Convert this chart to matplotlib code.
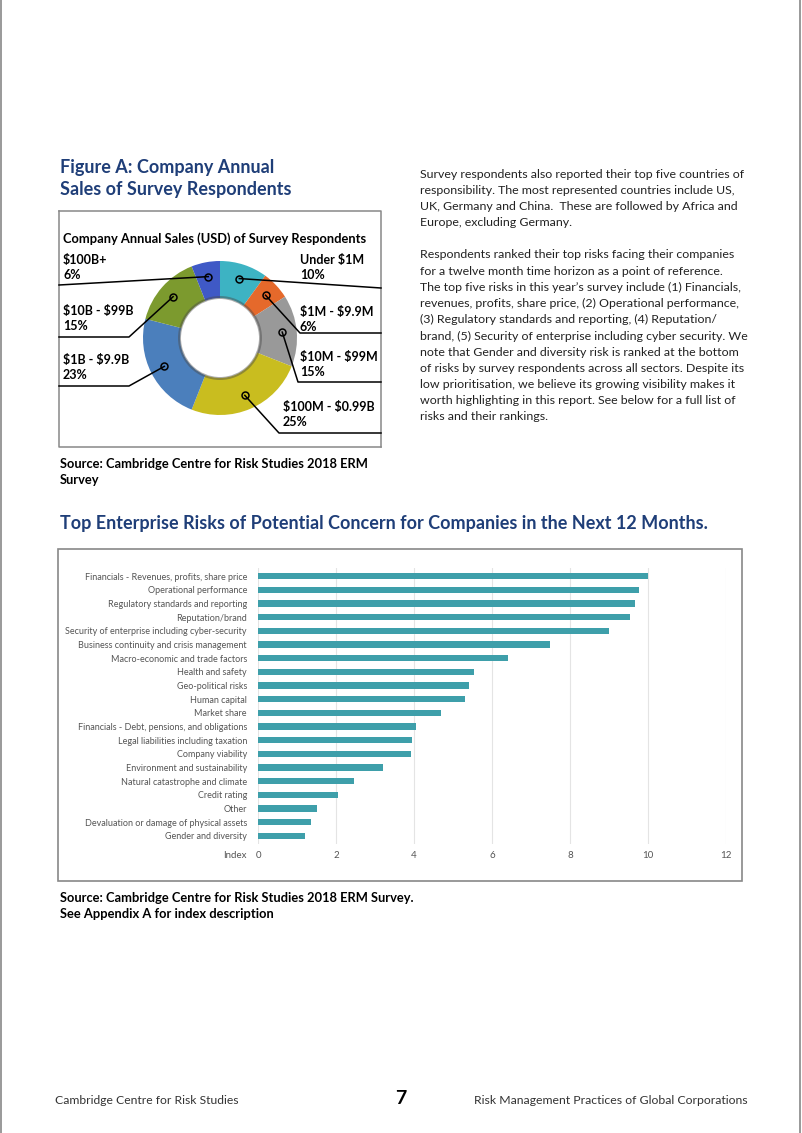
import numpy as np
import matplotlib.pyplot as plt

plt.rcParams['font.family'] = ['Lato', 'DejaVu Sans']
plt.rcParams['text.parse_math'] = False

W, H = 802, 1133
NAVY = '#1F3E78'
TEAL = '#3E9FAA'

# donut data
sales_labels = ['Under $1M', '$1M - $9.9M', '$10M - $99M', '$100M - $0.99B',
                '$1B - $9.9B', '$10B - $99B', '$100B+']
sales_share = [10, 6, 15, 25, 23, 15, 6]
sales_colors = ['#3DB3C3', '#E5692B', '#999999', '#C9BD1F',
                '#4B7FBC', '#7C9A2E', '#3F59C6']

# bar data
risks = [
    'Financials - Revenues, profits, share price',
    'Operational performance',
    'Regulatory standards and reporting',
    'Reputation/brand',
    'Security of enterprise including cyber-security',
    'Business continuity and crisis management',
    'Macro-economic and trade factors',
    'Health and safety',
    'Geo-political risks',
    'Human capital',
    'Market share',
    'Financials - Debt, pensions, and obligations',
    'Legal liabilities including taxation',
    'Company viability',
    'Environment and sustainability',
    'Natural catastrophe and climate',
    'Credit rating',
    'Other',
    'Devaluation or damage of physical assets',
    'Gender and diversity',
]
risk_index = [10.0, 9.76, 9.67, 9.55, 9.0, 7.49, 6.40, 5.55, 5.40, 5.31,
              4.69, 4.06, 3.95, 3.92, 3.21, 2.47, 2.05, 1.51, 1.35, 1.21]
index_ticks = [0, 2, 4, 6, 8, 10, 12]

paragraph = [
    'Survey respondents also reported their top five countries of',
    'responsibility. The most represented countries include US,',
    'UK, Germany and China.  These are followed by Africa and',
    'Europe, excluding Germany.',
    '',
    'Respondents ranked their top risks facing their companies',
    'for a twelve month time horizon as a point of reference.',
    'The top five risks in this year\u2019s survey include (1) Financials,',
    'revenues, profits, share price, (2) Operational performance,',
    '(3) Regulatory standards and reporting, (4) Reputation/',
    'brand, (5) Security of enterprise including cyber security. We',
    'note that Gender and diversity risk is ranked at the bottom',
    'of risks by survey respondents across all sectors. Despite its',
    'low prioritisation, we believe its growing visibility makes it',
    'worth highlighting in this report. See below for a full list of',
    'risks and their rankings.',
]

fig = plt.figure(figsize=(W / 100, H / 100), dpi=100)
fig.patch.set_facecolor('white')

# page-level axes in pixel coordinates (y down)
pg = fig.add_axes([0, 0, 1, 1])
pg.set_xlim(0, W)
pg.set_ylim(H, 0)
pg.axis('off')

# page edges
pg.plot([1, 1], [0, H], color='#888888', lw=1.2)
pg.plot([W - 2, W - 2], [0, H], color='#888888', lw=1.2)

# ---- Figure A ----
pg.text(60, 168, 'Figure A: Company Annual', fontsize=13, fontweight='bold',
        color=NAVY, va='center')
pg.text(60, 189, 'Sales of Survey Respondents', fontsize=13, fontweight='bold',
        color=NAVY, va='center')

pg.plot([59, 381, 381], [211, 211, 447], color='#888888', lw=1.1)
pg.plot([59, 59, 381], [211, 447, 447], color='#888888', lw=1.1)
pg.text(63, 239, 'Company Annual Sales (USD) of Survey Respondents',
        fontsize=9.3, fontweight='bold', va='center')

cx, cy, R, ring = 220, 338, 77, 37
wedges, _ = pg.pie(sales_share, colors=sales_colors, startangle=-90,
                   counterclock=True, radius=R, center=(cx, cy), frame=True,
                   wedgeprops=dict(width=ring, linewidth=0))
# inner shadow ring
pg.add_patch(plt.Circle((cx, cy), R - ring + 2, color='#4a4a4a', alpha=0.45,
                        lw=0, zorder=3))
pg.add_patch(plt.Circle((cx, cy), R - ring - 1, color='white', lw=0, zorder=4))

# leader line layout: (text x, text y, path after marker)
label_layout = [
    (300, 260, [(381, 288)]),
    (300, 312, [(300, 333), (381, 333)]),
    (300, 357, [(298, 382), (381, 382)]),
    (283, 407, [(279, 433), (381, 433)]),
    (63, 360, [(129, 386), (59, 386)]),
    (63, 311, [(129, 337), (59, 337)]),
    (63, 260, [(59, 285)]),
]
rm = R - ring / 2 + 4
for w, name, pct, (tx, ty, path) in zip(wedges, sales_labels, sales_share,
                                       label_layout):
    mid = np.deg2rad((w.theta1 + w.theta2) / 2)
    mx, my = cx + rm * np.cos(mid), cy + rm * np.sin(mid)
    xs = [mx] + [p[0] for p in path]
    ys = [my] + [p[1] for p in path]
    pg.plot(xs, ys, color='black', lw=1.1, zorder=5)
    pg.plot(mx, my, 'o', ms=5, mfc='none', mec='black', mew=1.1, zorder=6)
    pg.text(tx, ty, name, fontsize=9, fontweight='bold', va='center')
    pg.text(tx, ty + 15, f'{pct}%', fontsize=9, fontweight='bold', va='center')

pg.text(60, 464, 'Source: Cambridge Centre for Risk Studies 2018 ERM',
        fontsize=9.3, fontweight='bold', va='center')
pg.text(60, 480, 'Survey', fontsize=9.3, fontweight='bold', va='center')

# right column text
for i, line in enumerate(paragraph):
    pg.text(420, 174 + i * 16.2, line, fontsize=8.9, color='#222222', va='center')

# ---- bar chart section ----
pg.text(60, 524, 'Top Enterprise Risks of Potential Concern for Companies in the Next 12 Months.',
        fontsize=13, fontweight='bold', color=NAVY, va='center')
pg.add_patch(plt.Rectangle((58, 549), 684, 332, fill=False, ec='#888888', lw=1.2))

bx0, bx1, by0, by1 = 258, 726, 568, 844
ax = fig.add_axes([bx0 / W, 1 - by1 / H, (bx1 - bx0) / W, (by1 - by0) / H])
ypos = np.arange(len(risks))
ax.barh(ypos, risk_index, height=0.45, color=TEAL, zorder=3)
ax.set_ylim(len(risks) - 0.4, -0.6)
ax.set_xlim(0, 12)
ax.set_xticks(index_ticks)
ax.set_xticklabels([str(t) for t in index_ticks])
ax.set_yticks(ypos)
ax.set_yticklabels(risks)
ax.tick_params(axis='y', length=0, pad=8, labelsize=6.5, labelcolor='#555555')
ax.tick_params(axis='x', length=0, pad=5, labelsize=7, labelcolor='#555555')
ax.grid(axis='x', color='#e4e4e4', lw=0.8, zorder=0)
for s in ax.spines.values():
    s.set_visible(False)
pg.text(247, 855, 'Index', ha='right', va='center', fontsize=7, color='#555555')

pg.text(60, 898, 'Source: Cambridge Centre for Risk Studies 2018 ERM Survey.',
        fontsize=9.3, fontweight='bold', va='center')
pg.text(60, 914, 'See Appendix A for index description',
        fontsize=9.3, fontweight='bold', va='center')

# footer
pg.text(55, 1100, 'Cambridge Centre for Risk Studies', fontsize=8.7,
        color='#333333', va='center')
pg.text(401, 1099, '7', fontsize=14, fontweight='bold', ha='center', va='center')
pg.text(748, 1100, 'Risk Management Practices of Global Corporations',
        fontsize=8.8, color='#333333', va='center', ha='right')

pg.set_xlim(0, W)
pg.set_ylim(H, 0)
pg.set_aspect('auto')

fig.savefig('out.png', dpi=100)
